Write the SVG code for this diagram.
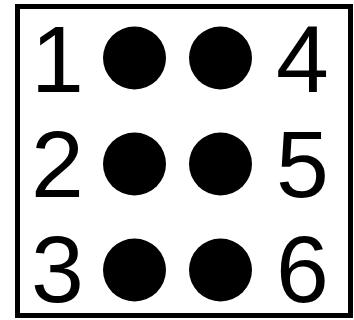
<svg xmlns="http://www.w3.org/2000/svg" width="354" height="320" viewBox="0 0 354 320">
<style>
.n{font-family:"Liberation Sans",Arial,sans-serif;font-size:95px;fill:#000}
.d{fill:#000}
</style>
<rect x="0" y="0" width="354" height="320" fill="#fff"/>
<rect x="17.5" y="6.5" width="333" height="309" fill="#fff" stroke="#000" stroke-width="5"/>
<g id="dot1"><circle class="d" cx="134.5" cy="58" r="31.5"/><text class="n" x="31" y="92">1</text></g>
<g id="dot2"><circle class="d" cx="134.5" cy="164" r="31.5"/><text class="n" x="31" y="197">2</text></g>
<g id="dot3"><circle class="d" cx="134.5" cy="270" r="31.5"/><text class="n" x="31" y="302">3</text></g>
<g id="dot4"><circle class="d" cx="220.5" cy="58" r="31.5"/><text class="n" x="276" y="92">4</text></g>
<g id="dot5"><circle class="d" cx="220.5" cy="164" r="31.5"/><text class="n" x="276" y="197">5</text></g>
<g id="dot6"><circle class="d" cx="220.5" cy="270" r="31.5"/><text class="n" x="276" y="302">6</text></g>
<g id="connectors"></g>
</svg>
